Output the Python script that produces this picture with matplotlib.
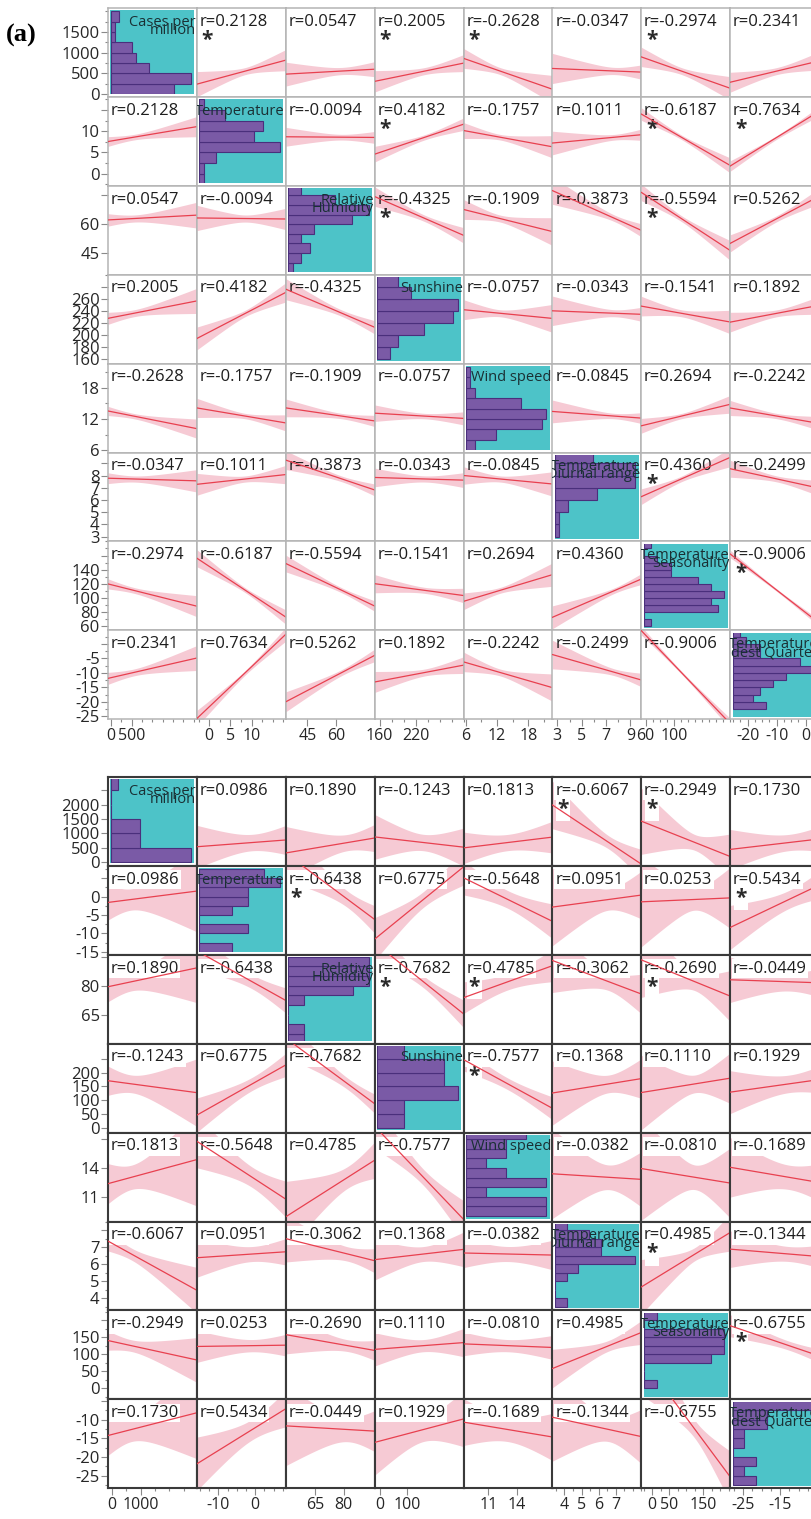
import numpy as np
import matplotlib.pyplot as plt
from matplotlib.patches import Rectangle
from matplotlib.ticker import MultipleLocator

plt.rcParams['font.family'] = ['Open Sans', 'DejaVu Sans']

W, H = 812, 1519
CELL = 88.9

names = [['Cases per', 'million'], ['Temperature'], ['Relative', 'Humidity'], ['Sunshine'],
         ['Wind speed'], ['Temperature', 'Diurnal range'], ['Temperature', 'Seasonality'],
         ['Temperature', 'Coldest Quarter']]

# ---------------- upper matrix ----------------
r_top = [
    [0.2128, 0.0547, 0.2005, -0.2628, -0.0347, -0.2974, 0.2341],
    [-0.0094, 0.4182, -0.1757, 0.1011, -0.6187, 0.7634],
    [-0.4325, -0.1909, -0.3873, -0.5594, 0.5262],
    [-0.0757, -0.0343, -0.1541, 0.1892],
    [-0.0845, 0.2694, -0.2242],
    [0.4360, -0.2499],
    [-0.9006],
]
star_top = [(0, 1), (0, 3), (0, 4), (0, 6), (1, 3), (1, 6), (1, 7), (2, 3), (2, 6), (5, 6), (6, 7)]
lim_top = [(-70, 2080), (-2.9, 18.1), (33.7, 80), (152, 300), (5.6, 22.6), (2.6, 9.9), (54, 180), (-26, 4.7)]
ylab_top = [[0, 500, 1000, 1500], [0, 5, 10], [45, 60], [160, 180, 200, 220, 240, 260], [6, 12, 18],
            [3, 4, 5, 6, 7, 8], [60, 80, 100, 120, 140], [-25, -20, -15, -10, -5]]
yext_top = [[], [15], [75], [280], [], [9], [160], [0]]
xlab_top = [[0, 500], [0, 5, 10], [45, 60], [160, 220], [6, 12, 18], [3, 5, 7, 9], [60, 100], [-20, -10, 0]]
minor_top = [250, 2.5, None, 20, 3, 1, 10, 2.5]
# histograms: first bin edge, bin width, counts from the lowest bin upward
hlo_top = [0, -2.5, 35, 160, 6, 3, 60, -22.5]
hw_top = [250, 2.5, 5, 20, 2, 1, 10, 2.5]
hc_top = [
    [15, 19, 9, 6, 5, 1, 1, 2],
    [1, 1, 4, 19, 13, 15, 6, 1],
    [1, 3, 5, 3, 6, 15, 19, 11, 3],
    [3, 5, 11, 18, 19, 8, 5],
    [2, 7, 18, 19, 13, 2, 1, 1],
    [1, 1, 3, 10, 19, 19, 9],
    [1, 0, 11, 10, 12, 10, 8, 4, 4, 2, 0, 1],
    [5, 3, 4, 6, 8, 12, 10, 4, 4, 2, 1],
]
n_top, t_top = 100, 1.98

# ---------------- lower matrix ----------------
r_bot = [
    [0.0986, 0.1890, -0.1243, 0.1813, -0.6067, -0.2949, 0.1730],
    [-0.6438, 0.6775, -0.5648, 0.0951, 0.0253, 0.5434],
    [-0.7682, 0.4785, -0.3062, -0.2690, -0.0449],
    [-0.7577, 0.1368, 0.1110, 0.1929],
    [-0.0382, -0.0810, -0.1689],
    [0.4985, -0.1344],
    [-0.6755],
]
star_bot = [(0, 5), (0, 6), (1, 2), (1, 7), (2, 3), (2, 4), (2, 6), (3, 4), (5, 6), (6, 7)]
lim_bot = [(-140, 2960), (-15.8, 8.3), (50, 96), (-18, 305), (8.4, 17.7), (3.3, 8.5), (-32, 229), (-28.4, -4.5)]
ylab_bot = [[0, 500, 1000, 1500, 2000], [-15, -10, -5, 0], [65, 80], [0, 50, 100, 150, 200], [11, 14],
            [4, 5, 6, 7], [0, 50, 100, 150], [-25, -20, -15, -10]]
yext_bot = [[2500], [5], [95], [250], [17], [8], [200], [-5]]
xlab_bot = [[0, 1000], [-10, 0], [65, 80], [0, 100], [11, 14], [4, 5, 6, 7], [0, 50, 150], [-25, -15]]
minor_bot = [500, 2.5, None, None, None, 0.5, 25, 2.5]
hlo_bot = [0, -15, 50, 0, 9, 3.5, 0, -27.5]
hw_bot = [500, 2.5, 5, 50, 1, 0.5, 25, 2.5]
hc_bot = [
    [11, 4, 4, 0, 0, 1],
    [2, 0, 3, 0, 2, 3, 3, 5, 4],
    [1, 1, 0, 0, 1, 4, 5, 5, 5],
    [2, 2, 6, 5, 5, 2],
    [4, 4, 1, 4, 2, 1, 2, 2, 3],
    [1, 0, 0, 1, 2, 7, 4, 4, 3, 1],
    [1, 0, 0, 5, 6, 6, 6, 0, 1],
    [2, 1, 2, 0, 1, 1, 3, 3, 7],
]
n_bot, t_bot = 22, 2.08

TEAL = '#4dc3c8'
PURPLE = '#7a5aa6'
PURPLE_EDGE = '#4a2f7c'
BAND = '#f6cad4'
LINE = '#e8404f'


def hist_stats(lo, width, counts):
    c = np.asarray(counts, float)
    mids = lo + width * (np.arange(len(c)) + 0.5)
    m = (c * mids).sum() / c.sum()
    s = np.sqrt((c * (mids - m) ** 2).sum() / (c.sum() - 1))
    return mids, m, s


def fmt(v):
    return str(int(v)) if float(v).is_integer() else str(v)


def draw_matrix(fig, x0, y0, r_rows, stars, lims, ylab, yext, xlab, minor,
                hlo, hw, hc, n, t, frame, frame_lw, boxed):
    k = len(lims)
    stats = [hist_stats(hlo[v], hw[v], hc[v]) for v in range(k)]
    box = dict(boxstyle='square,pad=0.08', fc='white', ec='none') if boxed else None
    for i in range(k):
        for j in range(k):
            rect = [(x0 + j * CELL) / W, 1 - (y0 + (i + 1) * CELL) / H, CELL / W, CELL / H]
            ax = fig.add_axes(rect)
            ax.set_xlim(lims[j])
            ax.set_ylim(lims[i])
            for sp in ax.spines.values():
                sp.set_color(frame)
                sp.set_linewidth(frame_lw)
            ax.tick_params(which='both', direction='out', color='#8a8a8a', width=0.8,
                           labelsize=12, labelcolor='#262626')
            ax.tick_params(axis='x', labelsize=11.5)
            ax.tick_params(which='major', length=5, pad=1)
            ax.tick_params(which='minor', length=2.5)
            if j == 0:
                ax.set_yticks(ylab[i] + yext[i])
                ax.set_yticklabels([fmt(v) for v in ylab[i]] + [''] * len(yext[i]))
                if minor[i]:
                    ax.yaxis.set_minor_locator(MultipleLocator(minor[i]))
            else:
                ax.set_yticks([])
            if i == k - 1:
                ax.set_xticks(xlab[j])
                ax.set_xticklabels([fmt(v) for v in xlab[j]])
                if minor[j]:
                    ax.xaxis.set_minor_locator(MultipleLocator(minor[j]))
            else:
                ax.set_xticks([])

            if i == j:
                mids, _, _ = stats[i]
                hax = fig.add_axes(rect)
                hax.patch.set_visible(False)
                hax.set_axis_off()
                xm = max(hc[i]) / 0.93
                hax.set_xlim(-0.03 * xm, xm)
                hax.set_ylim(lims[i])
                bg = Rectangle((0.028, 0.028), 0.944, 0.944, transform=hax.transAxes,
                               facecolor=TEAL, edgecolor='none', zorder=0)
                hax.add_patch(bg)
                bars = hax.barh(mids, hc[i], height=hw[i], left=0, color=PURPLE,
                                edgecolor=PURPLE_EDGE, linewidth=0.8, zorder=1)
                for b in bars:
                    b.set_clip_path(bg)
                for li, txt in enumerate(names[i]):
                    hax.text(0.99, 0.80 - 0.092 * li, txt, transform=hax.transAxes,
                             ha='right', va='baseline', fontsize=10.5, color='#1a3034',
                             clip_on=True, zorder=3)
                continue

            a, b_ = min(i, j), max(i, j)
            r = r_rows[a][b_ - a - 1]
            _, mx, sx = stats[j]
            _, my, sy = stats[i]
            # least-squares line of the row variable on the column variable, 95% band
            xs = np.linspace(lims[j][0], lims[j][1], 120)
            yhat = my + r * sy / sx * (xs - mx)
            se = sy * np.sqrt((1 - r ** 2) * (n - 1) / (n - 2))
            half = t * se * np.sqrt(1 / n + (xs - mx) ** 2 / ((n - 1) * sx ** 2))
            ax.fill_between(xs, yhat - half, yhat + half, color=BAND, lw=0, zorder=1)
            ax.plot(xs, yhat, color=LINE, lw=0.9, zorder=3)
            ax.text(0.03, 0.8, f'r={r:.4f}', transform=ax.transAxes, ha='left',
                    va='baseline', fontsize=12, color='#1e1e1e', zorder=2, bbox=box)
            if (i, j) in stars:
                ax.text(0.055, 0.575, '*', transform=ax.transAxes, ha='left', va='baseline',
                        fontsize=15, fontweight='bold', color='#2a2a2a', zorder=2, bbox=box)


fig = plt.figure(figsize=(W / 100, H / 100), dpi=100)
fig.patch.set_facecolor('white')

draw_matrix(fig, 108, 8, r_top, star_top, lim_top, ylab_top, yext_top, xlab_top, minor_top,
            hlo_top, hw_top, hc_top, n_top, t_top, '#b4b4b4', 1.1, False)
draw_matrix(fig, 108, 777, r_bot, star_bot, lim_bot, ylab_bot, yext_bot, xlab_bot, minor_bot,
            hlo_bot, hw_bot, hc_bot, n_bot, t_bot, '#3a3a3a', 1.5, True)

fig.text(6 / W, 1 - 35 / H, '(a)', fontfamily='Liberation Serif', fontweight='bold',
         fontsize=19, va='center', ha='left')

fig.savefig('out.png', dpi=100)
